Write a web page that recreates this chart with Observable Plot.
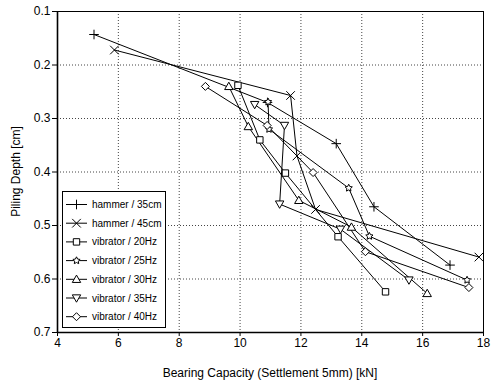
<!DOCTYPE html>
<html>
<head>
<meta charset="utf-8">
<script src="https://cdn.jsdelivr.net/npm/d3@7"></script>
<script src="https://cdn.jsdelivr.net/npm/@observablehq/plot@0.6"></script>
<style>
  html, body { margin: 0; padding: 0; background: #fff; }
  #chart { width: 492px; height: 383px; }
</style>
</head>
<body>
<div id="chart"></div>
<script>
// ---- data ----
const categories = ["hammer / 35cm", "hammer / 45cm", "vibrator / 20Hz", "vibrator / 25Hz", "vibrator / 30Hz", "vibrator / 35Hz", "vibrator / 40Hz"];

const hammer35X = [5.2, 10.9, 13.16, 14.4, 16.9];
const hammer35Y = [0.143, 0.27, 0.347, 0.465, 0.574];
const hammer45X = [5.87, 11.66, 11.87, 12.48, 17.85];
const hammer45Y = [0.172, 0.257, 0.37, 0.47, 0.559];
const vib20X = [9.93, 10.65, 11.49, 13.22, 14.78];
const vib20Y = [0.238, 0.34, 0.402, 0.521, 0.624];
const vib25X = [10.92, 10.95, 13.57, 14.25, 17.46];
const vib25Y = [0.269, 0.32, 0.43, 0.52, 0.602];
const vib30X = [9.63, 10.27, 11.93, 13.66, 16.15];
const vib30Y = [0.24, 0.315, 0.453, 0.503, 0.627];
const vib35X = [10.48, 11.46, 11.3, 13.3, 15.55];
const vib35Y = [0.274, 0.313, 0.46, 0.507, 0.602];
const vib40X = [8.86, 10.89, 12.4, 14.12, 17.52];
const vib40Y = [0.24, 0.313, 0.401, 0.549, 0.616];

const xTicks = [4, 6, 8, 10, 12, 14, 16, 18];
const yTicks = [0.1, 0.2, 0.3, 0.4, 0.5, 0.6, 0.7];
const xLabel = "Bearing Capacity (Settlement 5mm) [kN]";
const yLabel = "Piling Depth [cm]";

const seriesXs = [hammer35X, hammer45X, vib20X, vib25X, vib30X, vib35X, vib40X];
const seriesYs = [hammer35Y, hammer45Y, vib20Y, vib25Y, vib30Y, vib35Y, vib40Y];

// ---- symbols ----
function sym(fn) { return { draw(ctx, size) { fn(ctx, Math.sqrt(size / Math.PI)); } }; }
const symPlus = sym((c, h) => { c.moveTo(-h, 0); c.lineTo(h, 0); c.moveTo(0, -h); c.lineTo(0, h); });
const symTimes = sym((c, h) => { c.moveTo(-h, -h); c.lineTo(h, h); c.moveTo(h, -h); c.lineTo(-h, h); });
const symSquare = sym((c, h) => { c.rect(-h, -h, 2 * h, 2 * h); });
const symStar = sym((c, h) => {
  for (let i = 0; i < 10; i++) {
    const a = -Math.PI / 2 + i * Math.PI / 5;
    const rr = i % 2 === 0 ? h : h * 0.5;
    const px = rr * Math.cos(a), py = rr * Math.sin(a);
    if (i === 0) c.moveTo(px, py); else c.lineTo(px, py);
  }
  c.closePath();
});
const symTriUp = sym((c, h) => { c.moveTo(0, -h); c.lineTo(h, h * 0.75); c.lineTo(-h, h * 0.75); c.closePath(); });
const symTriDown = sym((c, h) => { c.moveTo(0, h); c.lineTo(h, -h * 0.75); c.lineTo(-h, -h * 0.75); c.closePath(); });
const symDiamond = sym((c, h) => { c.moveTo(0, -h); c.lineTo(h, 0); c.lineTo(0, h); c.lineTo(-h, 0); c.closePath(); });
const symbols = [symPlus, symTimes, symSquare, symStar, symTriUp, symTriDown, symDiamond];
const symR = [4.8, 4.3, 3.2, 3.8, 4.2, 4.2, 4];

// ---- table ----
const rows = [];
categories.forEach((name, k) => {
  seriesXs[k].forEach((x, i) => rows.push({ series: name, k, x, y: seriesYs[k][i] }));
});

const font = "'Liberation Sans', Arial, sans-serif";

const marks = [
  Plot.gridX(xTicks.slice(1, -1), { stroke: "#444", strokeOpacity: 1, strokeDasharray: "1,2" }),
  Plot.gridY(yTicks.slice(1, -1), { stroke: "#444", strokeOpacity: 1, strokeDasharray: "1,2" }),
  Plot.frame({ stroke: "black", strokeWidth: 1 }),
  Plot.axisX(xTicks, { tickSize: 4, tickPadding: 2, fontSize: 12, label: null }),
  Plot.axisY(yTicks, { tickSize: 5, tickPadding: 2, fontSize: 12, label: null, tickFormat: d3.format(".1f") }),
  Plot.ruleX([4], { stroke: "black", strokeWidth: 1.6 }),
  Plot.ruleY([0.7], { stroke: "black", strokeWidth: 1.6 }),
  Plot.line(rows, { x: "x", y: "y", z: "series", stroke: "black", strokeWidth: 1 })
];
categories.forEach((name, k) => {
  marks.push(Plot.dot(rows.filter(d => d.k === k), {
    x: "x", y: "y", symbol: symbols[k], r: symR[k], fill: "white", stroke: "black", strokeWidth: 1
  }));
});

const chart = Plot.plot({
  width: 492,
  height: 383,
  marginLeft: 57,
  marginRight: 9,
  marginTop: 11,
  marginBottom: 51,
  style: { fontFamily: font, fontSize: "12px", background: "white", color: "black" },
  x: { domain: [4, 18] },
  y: { domain: [0.1, 0.7], reverse: true },
  marks
});

// axis titles + legend
const svg = d3.select(chart);
svg.append("text")
  .attr("x", (57 + 483) / 2).attr("y", 377)
  .attr("text-anchor", "middle").attr("font-family", font).attr("font-size", 12)
  .attr("fill", "black").text(xLabel);
svg.append("text")
  .attr("transform", `translate(20,${(11 + 332) / 2}) rotate(-90)`)
  .attr("text-anchor", "middle").attr("font-family", font).attr("font-size", 12)
  .attr("fill", "black").text(yLabel);

const lg = svg.append("g").attr("text-anchor", "start");
lg.append("rect").attr("x", 62.5).attr("y", 191.5).attr("width", 103).attr("height", 136)
  .attr("fill", "white").attr("stroke", "black").attr("stroke-width", 1);
categories.forEach((name, k) => {
  const cy = 204.5 + k * 18.7;
  lg.append("line").attr("x1", 66).attr("x2", 87).attr("y1", cy).attr("y2", cy)
    .attr("stroke", "black").attr("stroke-width", 1);
  const size = Math.PI * symR[k] * symR[k];
  lg.append("path").attr("d", d3.symbol(symbols[k], size)())
    .attr("transform", `translate(76.5,${cy})`)
    .attr("fill", "white").attr("stroke", "black").attr("stroke-width", 1);
  lg.append("text").attr("x", 92).attr("y", cy).attr("dy", "0.35em")
    .attr("text-anchor", "start")
    .attr("font-family", font).attr("font-size", 10).attr("fill", "black").text(name);
});

document.getElementById("chart").appendChild(chart);
</script>
</body>
</html>
